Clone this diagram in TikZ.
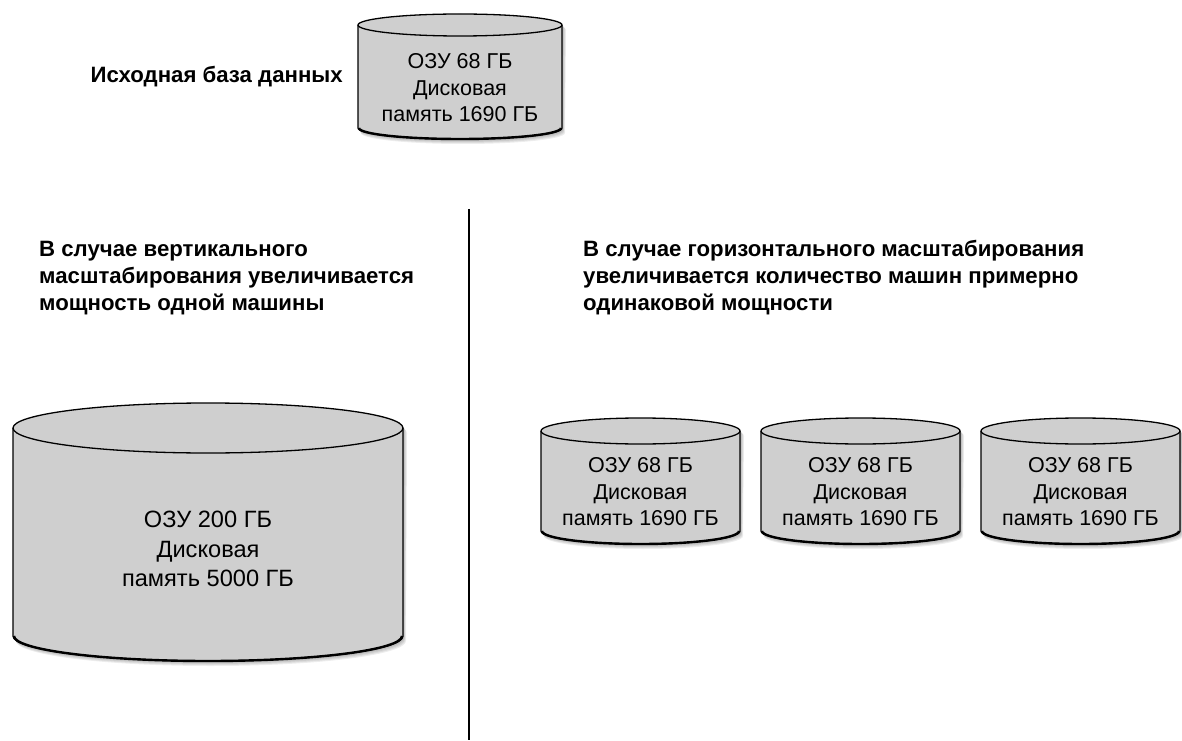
\documentclass[tikz,border=0pt]{standalone}
\usepackage{fontspec}
\setmainfont{Liberation Sans}
\begin{document}
\begin{tikzpicture}[x=1pt,y=1pt,
  cylfill/.style={fill=black!19},
  cylline/.style={draw=black, line width=1.3pt},
  cylshadow/.style={fill=black, opacity=0.07},
  cyltext/.style={align=center, inner sep=0pt},
  smalltext/.style={font=\fontsize{21.5}{26.5}\selectfont},
  bigtext/.style={font=\fontsize{23.6}{29.5}\selectfont},
  heading/.style={font=\bfseries\fontsize{22.2}{27}\selectfont, align=left, inner sep=0pt},
  divider/.style={draw=black, line width=1.6pt}]
\useasboundingbox (0,0) rectangle (1182,740);
% #1 name, #2 cx, #3 top centre y, #4 bottom centre y, #5 rx, #6 ry, #7 text y, #8 text style, #9 text
\newcommand\dbcyl[9]{%
  \foreach \s in {1,2,3,4,5}{%
    \path[cylshadow] ({#2-#5+\s*0.6},{#3-\s}) -- ({#2-#5+\s*0.6},{#4-\s}) arc (180:360:#5 and #6) -- ({#2+#5+\s*0.8},{#3-\s}) arc (0:180:#5 and #6) -- cycle;
  }
  \path[cylfill] ({#2-#5},#3) -- ({#2-#5},#4) arc (180:360:#5 and #6) -- ({#2+#5},#3) arc (0:180:#5 and #6) -- cycle;
  \draw[cylline] ({#2-#5},#3) -- ({#2-#5},#4) arc (180:360:#5 and #6) -- ({#2+#5},#3);
  \draw[black, line width=2.4pt] ({#2-#5+1},#4) arc (180:360:{#5-1} and #6);
  \draw[cylline] (#2,#3) ellipse (#5 and #6);
  \node[cyltext, #8] (#1) at (#2,#7) {#9};
}
% original database
\dbcyl{orig}{460}{715}{612}{102}{11}{652}{smalltext}{ОЗУ 68 ГБ\\Дисковая\\память 1690 ГБ}
\node[heading, anchor=base east] (origlabel) at (343,657) {Исходная база данных};
% divider
\coordinate (divtop) at (469,531);
\coordinate (divbot) at (469,0);
\draw[divider] (divtop) -- (divbot);
% headings (base anchor = baseline of the last line)
\node[heading, anchor=base west] (vert) at (39,430) {В случае вертикального\\масштабирования увеличивается\\мощность одной машины};
\node[heading, anchor=base west] (horiz) at (583,430) {В случае горизонтального масштабирования\\увеличивается количество машин примерно\\одинаковой мощности};
% big machine
\dbcyl{big}{208}{312}{104}{195}{25}{191}{bigtext}{ОЗУ 200 ГБ\\Дисковая\\память 5000 ГБ}
% three machines
\dbcyl{m1}{640.5}{309}{209}{99.5}{13}{248}{smalltext}{ОЗУ 68 ГБ\\Дисковая\\память 1690 ГБ}
\dbcyl{m2}{860.5}{309}{209}{99.5}{13}{248}{smalltext}{ОЗУ 68 ГБ\\Дисковая\\память 1690 ГБ}
\dbcyl{m3}{1080.5}{309}{209}{99.5}{13}{248}{smalltext}{ОЗУ 68 ГБ\\Дисковая\\память 1690 ГБ}
\end{tikzpicture}
\end{document}
